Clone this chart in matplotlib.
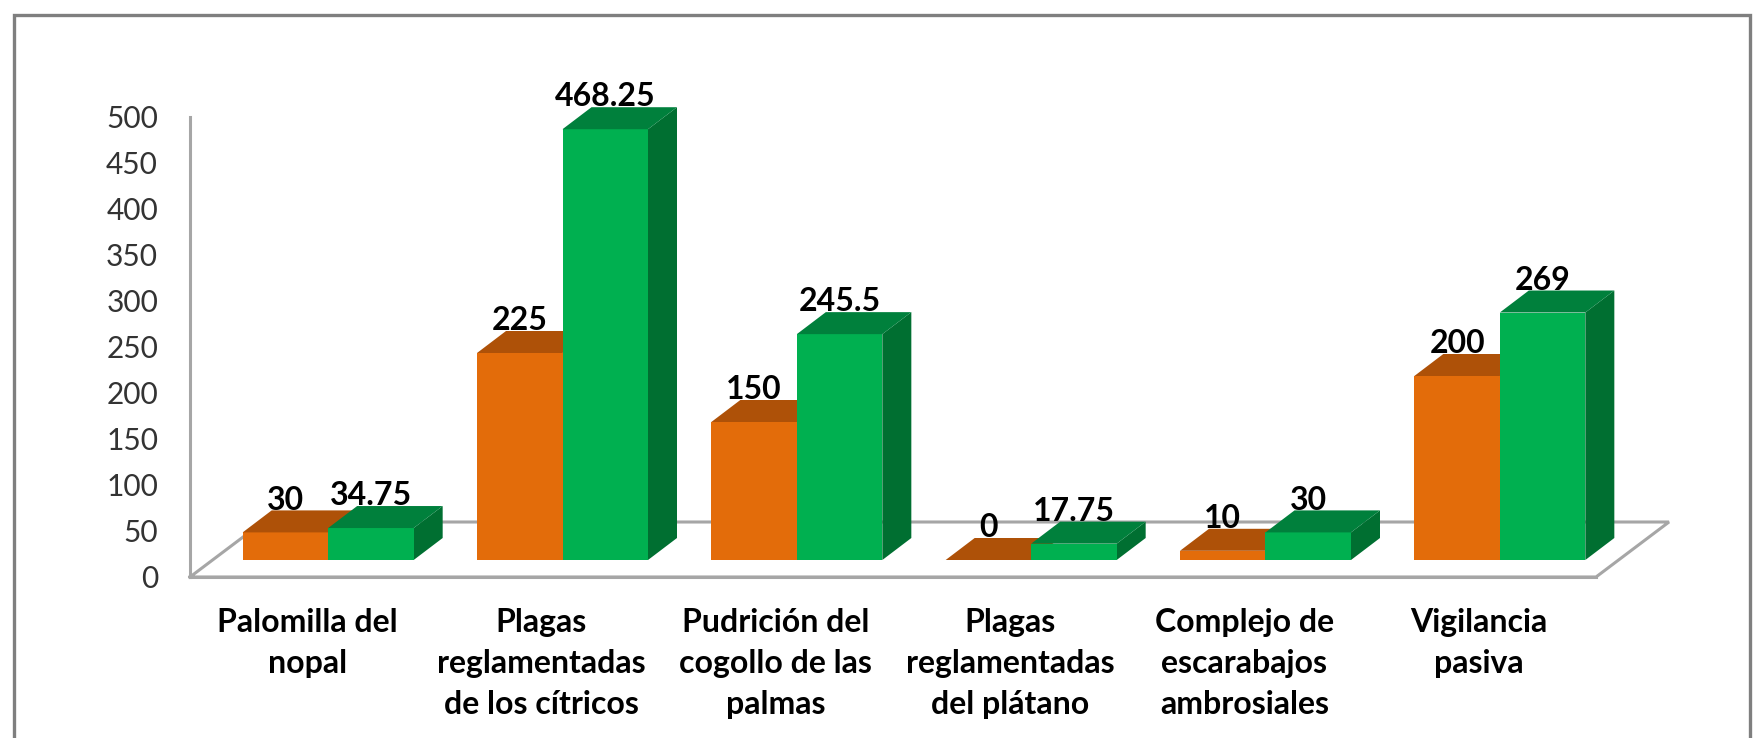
#!/usr/bin/env python3
# -*- coding: utf-8 -*-

import matplotlib as mpl
mpl.use("Agg")
import matplotlib.pyplot as plt
from matplotlib.lines import Line2D
from matplotlib.patches import Polygon

OUT_FIG = "out.png"

CATEGORIES = [
    "Palomilla del\nnopal",
    "Plagas\nreglamentadas\nde los cítricos",
    "Pudrición del\ncogollo de las\npalmas",
    "Plagas\nreglamentadas\ndel plátano",
    "Complejo de\nescarabajos\nambrosiales",
    "Vigilancia\npasiva",
]
ORANGE_VALUES = [30, 225, 150, 0, 10, 200]
GREEN_VALUES = [34.75, 468.25, 245.5, 17.75, 30, 269]
ORANGE_LABELS = ["30", "225", "150", "0", "10", "200"]
GREEN_LABELS = ["34.75", "468.25", "245.5", "17.75", "30", "269"]
Y_TICKS = [0, 50, 100, 150, 200, 250, 300, 350, 400, 450, 500]

W, H = 1761, 738

# pixel layout of the plot box
AX_LEFT, AX_RIGHT = 190, 1596
AX_TOP, AX_BOTTOM = 117, 577

PX_X = (AX_RIGHT - AX_LEFT) / 6.0
PX_Y = (AX_BOTTOM - AX_TOP) / 500.0

BAR_W = 85.5 / PX_X
GROUP_SHIFT = 21 / PX_X
BASE = 17 / PX_Y
DEPTH_X = 29 / PX_X
DEPTH_Y = 22 / PX_Y
FLOOR_X = 73 / PX_X
FLOOR_Y = 55 / PX_Y

GREY = "#A6A6A6"
FRAME = "#7F7F7F"
ORANGE = {"front": "#E36C0A", "top": "#AE5108", "side": "#AE5108"}
GREEN = {"front": "#00B050", "top": "#00803C", "side": "#006F31"}

mpl.rcParams["font.family"] = ["Lato", "DejaVu Sans"]


def draw_bar(ax, x0, value, colors):
    x1 = x0 + BAR_W
    y0 = BASE
    y1 = BASE + value
    if value > 0:
        ax.add_patch(Polygon(
            [(x1, y0), (x1 + DEPTH_X, y0 + DEPTH_Y),
             (x1 + DEPTH_X, y1 + DEPTH_Y), (x1, y1)],
            closed=True, facecolor=colors["side"], edgecolor="none",
            clip_on=False, zorder=3
        ))
        ax.add_patch(Polygon(
            [(x0, y0), (x1, y0), (x1, y1), (x0, y1)],
            closed=True, facecolor=colors["front"], edgecolor="none",
            clip_on=False, zorder=3
        ))
    ax.add_patch(Polygon(
        [(x0, y1), (x1, y1), (x1 + DEPTH_X, y1 + DEPTH_Y),
         (x0 + DEPTH_X, y1 + DEPTH_Y)],
        closed=True, facecolor=colors["top"], edgecolor="none",
        clip_on=False, zorder=3
    ))


def main():
    fig = plt.figure(figsize=(W / 100, H / 100), dpi=100, facecolor="white")
    ax = fig.add_axes([
        AX_LEFT / W,
        1 - AX_BOTTOM / H,
        (AX_RIGHT - AX_LEFT) / W,
        (AX_BOTTOM - AX_TOP) / H
    ])
    ax.set_xlim(0, 6)
    ax.set_ylim(0, 500)
    ax.patch.set_visible(False)

    # floor of the 3D box
    ax.plot(
        [0, FLOOR_X, 6 + FLOOR_X, 6, 0],
        [0, FLOOR_Y, FLOOR_Y, 0, 0],
        color=GREY, linewidth=2.2, clip_on=False, zorder=1,
        solid_joinstyle="miter"
    )

    for i in range(len(CATEGORIES)):
        center = i + 0.5 + GROUP_SHIFT
        draw_bar(ax, center - BAR_W, ORANGE_VALUES[i], ORANGE)
        draw_bar(ax, center, GREEN_VALUES[i], GREEN)

        for x, val, txt in [
            (center - BAR_W / 2, ORANGE_VALUES[i], ORANGE_LABELS[i]),
            (center + BAR_W / 2, GREEN_VALUES[i], GREEN_LABELS[i]),
        ]:
            ax.annotate(
                txt,
                xy=(x, BASE + val + DEPTH_Y),
                xytext=(0, 0.6),
                textcoords="offset points",
                ha="center",
                va="baseline",
                fontsize=23,
                fontweight="bold",
                color="black",
                annotation_clip=False,
                zorder=5
            )

    ax.set_yticks(Y_TICKS)
    ax.set_xticks([i + 0.5 for i in range(len(CATEGORIES))])
    ax.set_xticklabels(CATEGORIES, fontsize=23, fontweight="bold", linespacing=1.5)
    ax.tick_params(axis="x", length=0, pad=22, colors="black")
    ax.tick_params(axis="y", length=0, pad=23, labelsize=21.5, labelcolor="#333333")

    for side in ["top", "right"]:
        ax.spines[side].set_visible(False)
    for side in ["left", "bottom"]:
        ax.spines[side].set_color(GREY)
        ax.spines[side].set_linewidth(2.2)

    # outer frame, open at the bottom of the picture
    fig.add_artist(Line2D(
        [14 / W, 14 / W, 1750 / W, 1750 / W],
        [0, 1 - 15 / H, 1 - 15 / H, 0],
        color=FRAME, linewidth=2.4, solid_joinstyle="miter"
    ))

    fig.savefig(OUT_FIG, dpi=100)
    plt.close(fig)


if __name__ == "__main__":
    main()
